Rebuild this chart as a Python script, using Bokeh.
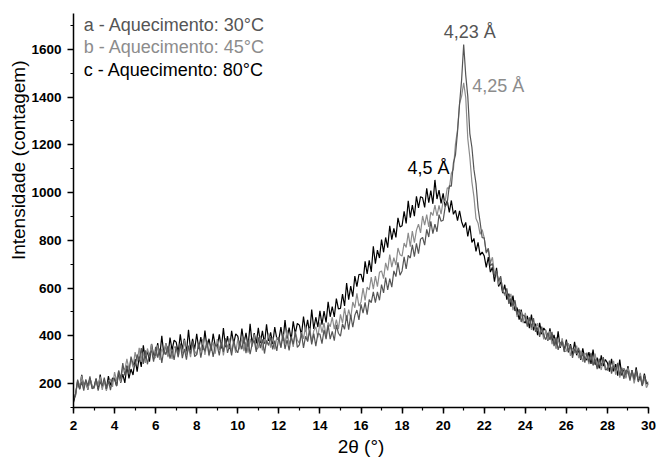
import numpy as np
from bokeh.plotting import figure
from bokeh.models import Range1d, SingleIntervalTicker, Label, Title
from bokeh.embed import file_html
from bokeh.resources import INLINE

# 2-theta grid (degrees), 0.1 deg steps from 2 to 30
theta_start, theta_step, n_points = 2.0, 0.1, 281
two_theta = np.round(theta_start + theta_step * np.arange(n_points), 1)

# a - Aquecimento: 30 C (dark gray)
series_a = [
    130, 154, 217, 176, 208, 171, 218, 190, 230, 179,
    184, 222, 171, 208, 190, 225, 178, 214, 173, 218,
    224, 190, 254, 221, 286, 234, 274, 242, 313, 283,
    274, 322, 296, 349, 283, 339, 281, 324, 339, 292,
    354, 309, 346, 287, 342, 321, 358, 305, 342, 299,
    357, 313, 368, 307, 346, 300, 359, 326, 377, 313,
    322, 371, 309, 356, 335, 380, 320, 365, 312, 362,
    359, 318, 375, 333, 390, 329, 360, 318, 381, 344,
    329, 374, 344, 395, 328, 383, 323, 366, 381, 333,
    394, 349, 385, 326, 381, 360, 396, 343, 380, 337,
    395, 351, 406, 345, 384, 339, 398, 365, 415, 352,
    362, 411, 350, 398, 377, 422, 364, 409, 357, 409,
    407, 367, 425, 386, 445, 386, 419, 380, 446, 411,
    399, 450, 428, 486, 426, 488, 436, 486, 508, 467,
    532, 495, 540, 489, 552, 539, 584, 539, 584, 549,
    615, 580, 644, 592, 640, 604, 672, 648, 708, 654,
    672, 731, 680, 737, 726, 781, 732, 787, 744, 805,
    812, 780, 846, 814, 880, 828, 868, 836, 908, 880,
    884, 941, 958, 1028, 1027, 1124, 1158, 1254, 1372, 1473,
    1620, 1492, 1403, 1247, 1190, 1096, 1038, 936, 877, 811,
    810, 749, 767, 693, 703, 646, 673, 630, 650, 584,
    576, 599, 534, 557, 526, 549, 489, 512, 458, 488,
    480, 439, 477, 436, 474, 417, 435, 396, 439, 403,
    384, 413, 383, 417, 357, 394, 341, 370, 376, 333,
    376, 335, 360, 308, 347, 325, 350, 303, 328, 288,
    330, 290, 329, 276, 302, 261, 305, 274, 311, 257,
    261, 296, 242, 276, 255, 287, 235, 267, 220, 257,
    250, 213, 255, 218, 260, 207, 227, 190, 235, 201,
    208,
]

# b - Aquecimento: 45 C (light gray)
series_b = [
    155, 148, 213, 187, 234, 184, 208, 175, 224, 194,
    179, 214, 189, 229, 174, 217, 170, 205, 219, 186,
    248, 211, 256, 206, 270, 258, 304, 260, 304, 268,
    332, 292, 350, 291, 331, 287, 347, 314, 365, 302,
    311, 360, 299, 346, 325, 370, 311, 356, 303, 354,
    351, 310, 367, 326, 383, 321, 352, 311, 374, 336,
    321, 366, 336, 387, 320, 375, 315, 358, 373, 325,
    386, 341, 378, 318, 373, 352, 389, 335, 372, 329,
    387, 343, 397, 336, 375, 330, 388, 355, 406, 342,
    351, 400, 339, 386, 365, 410, 351, 396, 343, 394,
    392, 351, 408, 367, 424, 364, 395, 354, 418, 382,
    369, 415, 388, 441, 376, 433, 376, 421, 438, 393,
    457, 414, 454, 398, 456, 438, 478, 428, 468, 428,
    490, 453, 516, 463, 510, 474, 542, 518, 578, 524,
    542, 600, 548, 604, 592, 646, 596, 650, 606, 666,
    672, 640, 706, 674, 740, 688, 728, 696, 768, 740,
    734, 789, 770, 831, 774, 839, 790, 843, 868, 831,
    902, 864, 908, 856, 918, 904, 948, 902, 946, 910,
    965, 963, 1020, 1018, 1081, 1098, 1203, 1263, 1373, 1404,
    1460, 1398, 1226, 1148, 1045, 982, 891, 872, 825, 845,
    810, 746, 763, 705, 729, 659, 664, 615, 644, 599,
    569, 589, 550, 576, 508, 539, 479, 501, 501, 453,
    496, 452, 474, 425, 455, 430, 453, 404, 427, 385,
    425, 383, 420, 365, 389, 346, 388, 355, 390, 334,
    336, 370, 316, 349, 328, 359, 307, 338, 291, 327,
    320, 282, 323, 285, 326, 272, 293, 257, 303, 270,
    254, 286, 258, 295, 237, 277, 225, 256, 263, 222,
    266, 226, 252, 201, 241, 220, 245, 198, 223, 183,
    200,
]

# c - Aquecimento: 80 C (black)
series_c = [
    122, 156, 209, 178, 237, 187, 211, 175, 223, 188,
    184, 220, 178, 238, 183, 215, 177, 231, 193, 223,
    219, 190, 246, 204, 240, 203, 276, 222, 261, 236,
    303, 250, 313, 270, 360, 298, 338, 292, 366, 319,
    317, 370, 313, 400, 322, 369, 316, 393, 340, 382,
    374, 330, 406, 342, 388, 329, 425, 341, 387, 343,
    409, 345, 395, 341, 422, 352, 388, 338, 409, 360,
    356, 406, 347, 433, 353, 399, 345, 421, 367, 408,
    399, 355, 431, 367, 413, 354, 450, 366, 412, 368,
    434, 370, 421, 367, 448, 379, 415, 366, 437, 388,
    385, 437, 379, 466, 388, 435, 383, 461, 409, 452,
    445, 403, 481, 419, 467, 411, 510, 429, 478, 437,
    505, 447, 504, 456, 543, 480, 522, 479, 556, 513,
    515, 575, 525, 621, 552, 608, 564, 650, 606, 657,
    658, 625, 712, 659, 716, 668, 775, 702, 759, 726,
    803, 750, 812, 769, 861, 803, 850, 812, 894, 856,
    861, 921, 871, 966, 895, 948, 901, 984, 936, 983,
    978, 938, 1018, 958, 1008, 953, 1053, 973, 1010, 955,
    997, 941, 966, 917, 967, 909, 926, 883, 923, 878,
    854, 875, 817, 862, 791, 808, 754, 792, 738, 751,
    735, 687, 730, 667, 687, 627, 685, 607, 627, 579,
    614, 552, 577, 522, 569, 504, 518, 468, 510, 462,
    454, 484, 432, 489, 423, 451, 403, 454, 407, 433,
    420, 380, 431, 376, 404, 352, 419, 350, 379, 340,
    384, 331, 365, 319, 375, 319, 341, 299, 348, 306,
    299, 332, 283, 343, 279, 309, 264, 318, 273, 301,
    287, 250, 304, 251, 282, 233, 301, 234, 264, 227,
    273, 221, 256, 211, 268, 213, 235, 193, 242, 200,
    198,
]

legend_labels = ["a - Aquecimento: 30°C", "b - Aquecimento: 45°C", "c - Aquecimento: 80°C"]
peak_labels = ["4,23 Å", "4,25 Å", "4,5 Å"]
x_label = "2θ (°)"
y_label = "Intensidade (contagem)"

col_a, col_b, col_c = "#555555", "#8c8c8c", "#000000"
FONT = "Liberation Sans"

p = figure(width=657, height=459, x_range=Range1d(2, 30), y_range=Range1d(100, 1750),
           output_backend="svg", toolbar_location=None, title=None,
           min_border_left=73, min_border_right=9, min_border_top=13, min_border_bottom=50)
p.outline_line_color = None
p.xgrid.visible = False
p.ygrid.visible = False
p.background_fill_color = "white"
p.border_fill_color = "white"

p.line(two_theta, series_c, line_color=col_c, line_width=1.2)
p.line(two_theta, series_b, line_color=col_b, line_width=1.2)
p.line(two_theta, series_a, line_color=col_a, line_width=1.2)

p.xaxis.ticker = SingleIntervalTicker(interval=2, num_minor_ticks=2)
p.yaxis.ticker = SingleIntervalTicker(interval=200, num_minor_ticks=2)
for ax in (p.xaxis, p.yaxis):
    ax.axis_line_width = 1.5
    ax.axis_line_color = "black"
    ax.major_tick_line_width = 1.5
    ax.minor_tick_line_width = 1.2
    ax.major_tick_line_color = "black"
    ax.minor_tick_line_color = "black"
    ax.major_tick_out = 6
    ax.major_tick_in = 0
    ax.minor_tick_out = 3
    ax.minor_tick_in = 0
    ax.major_label_text_font = FONT
    ax.major_label_text_font_style = "bold"
    ax.major_label_text_font_size = "13.5px"
    ax.major_label_text_color = "black"
p.xaxis.major_label_standoff = 7
p.yaxis.major_label_standoff = 6

p.xaxis.axis_label = x_label
p.xaxis.axis_label_text_font = FONT
p.xaxis.axis_label_text_font_style = "normal"
p.xaxis.axis_label_text_font_size = "19px"
p.xaxis.axis_label_text_color = "black"
p.xaxis.axis_label_standoff = 3

ytitle = Title(text=y_label, align="right", offset=47, standoff=0,
               text_font=FONT, text_font_size="19px", text_font_style="normal",
               text_color="black")
p.add_layout(ytitle, "left")

legend_colors = [col_a, col_b, col_c]
legend_y = [1702, 1611, 1515]
for txt, colr, yy in zip(legend_labels, legend_colors, legend_y):
    p.add_layout(Label(x=2.5, y=yy, text=txt, text_color=colr, text_font=FONT,
                       text_font_size="18px", text_align="left", text_baseline="middle"))

peak_pos = [(21.3, 1673, col_a), (22.68, 1448, col_b), (19.29, 1103, col_c)]
for txt, (xx, yy, colr) in zip(peak_labels, peak_pos):
    p.add_layout(Label(x=xx, y=yy, text=txt, text_color=colr, text_font=FONT,
                       text_font_size="18px", text_align="center", text_baseline="middle"))

open("out.html", "w").write(file_html(p, INLINE))
